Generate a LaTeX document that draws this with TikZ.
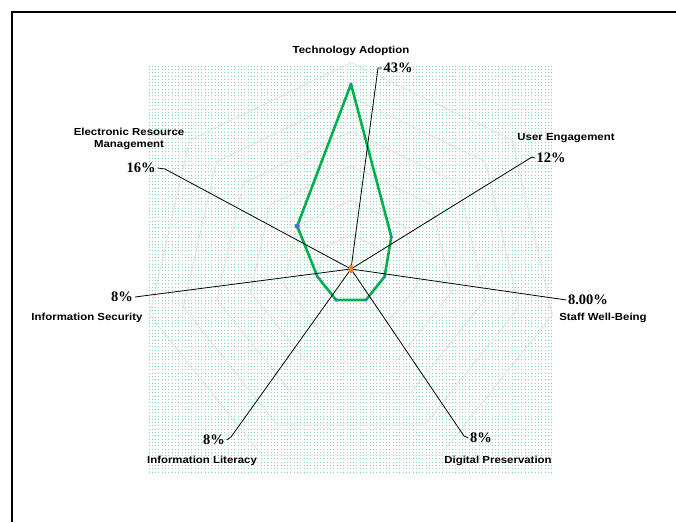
\documentclass[tikz,border=0pt]{standalone}
\usepackage{fontspec}
\setmainfont{Liberation Serif}
\newfontfamily\labfont[FakeStretch=1.12]{Liberation Sans}
\usetikzlibrary{patterns.meta}
\definecolor{seriesgreen}{RGB}{0,176,80}
\definecolor{markblue}{RGB}{68,114,196}
\definecolor{markorange}{RGB}{237,125,49}
\definecolor{ringgray}{RGB}{222,222,222}
\definecolor{dotgreen}{RGB}{140,215,170}
\tikzdeclarepattern{name=greendots,type=uncolored,
  bottom left={(-.5pt,-.5pt)},top right={(2.8pt,2.8pt)},
  tile size={(3.3pt,3.3pt)},
  code={\fill (0,0) rectangle (0.9pt,0.9pt);}}
\tikzset{
  axislab/.style={font=\labfont\bfseries\fontsize{10.2}{12}\selectfont,align=center,inner sep=0pt},
  vallab/.style={font=\bfseries\fontsize{14.5}{16}\selectfont,inner sep=0pt},
  leader/.style={draw=black,line width=0.8pt},
  ring/.style={draw=ringgray,line width=0.8pt},
  series/.style={draw=seriesgreen,line width=2.6pt,line join=round},
  marker/.style={fill=markblue,draw=none},
}
\begin{document}
\begin{tikzpicture}[x=1pt,y=1pt]
\useasboundingbox (0,0) rectangle (676,522);
% frame
\draw[line width=2.5pt] (12,0) -- (12,510) -- (676,510);
% dotted plot area
\fill[pattern=greendots,pattern color=dotgreen] (148,50) rectangle (554,456);
\coordinate (c) at (351,253);
% rings
\begin{scope}[shift={(c)}]
\foreach \k in {1,...,6}{
  \pgfmathsetmacro{\r}{34.41*\k}
  \draw[ring] (90:\r) -- (38.571:\r) -- (-12.857:\r) -- (-64.286:\r) -- (-115.714:\r) -- (-167.143:\r) -- (141.429:\r) -- cycle;
}
% data: 1% = 4.302pt
\coordinate (p1) at (90:184.99);
\coordinate (p2) at (38.571:51.62);
\coordinate (p3) at (-12.857:34.41);
\coordinate (p4) at (-64.286:34.41);
\coordinate (p5) at (-115.714:34.41);
\coordinate (p6) at (-167.143:34.41);
\coordinate (p7) at (141.429:68.83);
\end{scope}
\draw[series] (p1) -- (p2) -- (p3) -- (p4) -- (p5) -- (p6) -- (p7) -- cycle;
\foreach \p in {p1,p2,p3,p4,p5,p6}{\fill[marker] (\p) circle (1.7);}
\fill[marker] (p7) circle (2.6);
% axis labels
\node[axislab] (ta) at (351,471) {Technology Adoption};
\node[axislab] (ue) at (566,384) {User Engagement};
\node[axislab] (swb) at (603,204) {Staff Well-Being};
\node[axislab] (dp) at (498,61) {Digital Preservation};
\node[axislab] (il) at (202,61) {Information Literacy};
\node[axislab] (is) at (87,204) {Information Security};
\node[axislab] (erm) at (129,383) {Electronic Resource\\Management};
% value labels
\node[vallab] (v1) at (398,454) {43\%};
\node[vallab] (v2) at (551,364) {12\%};
\node[vallab] (v3) at (588,222) {8.00\%};
\node[vallab] (v4) at (481,84) {8\%};
\node[vallab] (v5) at (214,82) {8\%};
\node[vallab] (v6) at (122,225) {8\%};
\node[vallab] (v7) at (141,354) {16\%};
% leader lines
\coordinate (b1) at (378,454);
\coordinate (b2) at (532,365);
\coordinate (b4) at (464,86);
\coordinate (b5) at (231,85);
\coordinate (b7) at (165,353);
\draw[leader] (c) -- (b1) -- ([xshift=-1.5pt]v1.west);
\draw[leader] (c) -- (b2) -- ([xshift=-1.5pt]v2.west);
\draw[leader] (c) -- ([xshift=-1.5pt]v3.west);
\draw[leader] (c) -- (b4) -- ([xshift=-1.5pt]v4.west);
\draw[leader] (c) -- (b5) -- ([xshift=1.5pt]v5.east);
\draw[leader] (c) -- ([xshift=2pt]v6.east);
\draw[leader] (c) -- (b7) -- ([xshift=2pt]v7.east);
% orange marker at centre
\fill[markorange] (c) ellipse (2.4 and 4.5);
\end{tikzpicture}
\end{document}
